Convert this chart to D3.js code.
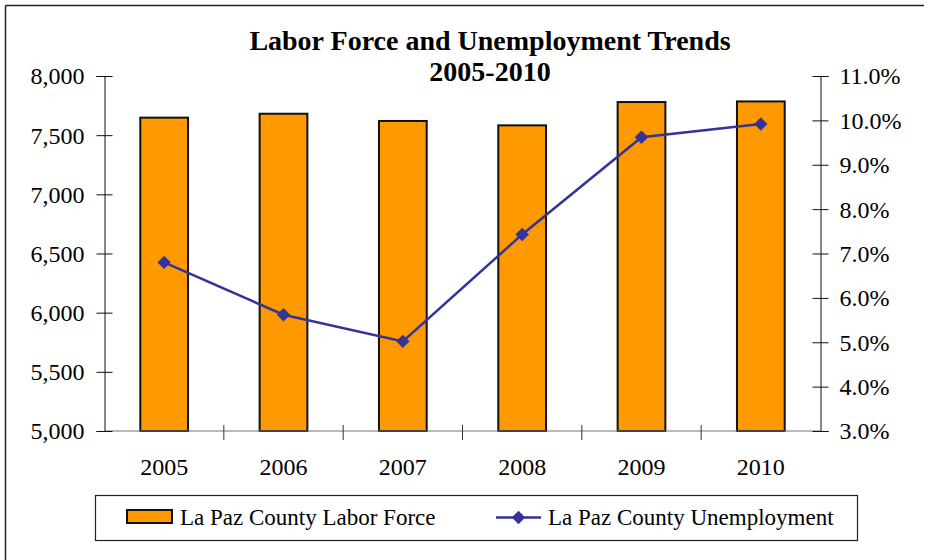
<!DOCTYPE html>
<html><head><meta charset="utf-8">
<script src="https://cdn.jsdelivr.net/npm/d3@7"></script>
<style>body{margin:0;background:#fff}svg{display:block}svg text{font-family:"Liberation Serif","Times New Roman",serif !important;fill:#000}</style>
</head><body><svg id="c" width="934" height="560"></svg>
<script>
const years = ["2005","2006","2007","2008","2009","2010"];
const laborForce = [7648, 7681, 7620, 7583, 7780, 7785];
const unemployment = [6.8, 5.62, 5.02, 7.43, 9.62, 9.92];
const leftTicks = [5000,5500,6000,6500,7000,7500,8000];
const rightTicks = [3,4,5,6,7,8,9,10,11];

const svg = d3.select("#c");
svg.append("line").attr("x1",5.5).attr("x2",924).attr("y1",5.5).attr("y2",5.5).attr("stroke","#222").attr("stroke-width",1.5);
svg.append("line").attr("x1",5.5).attr("x2",5.5).attr("y1",5.5).attr("y2",560).attr("stroke","#222").attr("stroke-width",1.5);

const L=104.5, R=820.5, T=76, B=431;
const x = d3.scaleBand().domain(years).range([L,R]).paddingInner(0.6).paddingOuter(0.3);
const xb = d3.scaleBand().domain(years).range([L,R]);
const yL = d3.scaleLinear().domain([5000,8000]).range([B,T]);
const yR = d3.scaleLinear().domain([3,11]).range([B,T]);

svg.append("text").attr("x",490).attr("y",50).attr("text-anchor","middle").attr("font-weight","bold").attr("font-size",28).text("Labor Force and Unemployment Trends");
svg.append("text").attr("x",490).attr("y",81).attr("text-anchor","middle").attr("font-weight","bold").attr("font-size",28).text("2005-2010");

svg.append("g").selectAll("rect").data(years).join("rect")
  .attr("x",d=>x(d)).attr("width",x.bandwidth())
  .attr("y",(d,i)=>yL(laborForce[i])).attr("height",(d,i)=>B-yL(laborForce[i]))
  .attr("fill","#ff9900").attr("stroke","#111").attr("stroke-width",2);

svg.append("line").attr("x1",L).attr("x2",R).attr("y1",B).attr("y2",B).attr("stroke","#777").attr("stroke-width",1.2);
const bounds = years.map(d=>xb(d)).concat([R]);
svg.append("g").selectAll("line").data(bounds.slice(1,-1)).join("line")
  .attr("x1",d=>d).attr("x2",d=>d).attr("y1",B-6).attr("y2",B+9).attr("stroke","#333").attr("stroke-width",1);
svg.append("g").selectAll("text").data(years).join("text")
  .attr("x",d=>xb(d)+xb.bandwidth()/2).attr("y",475).attr("text-anchor","middle").attr("font-size",24).text(d=>d);

const gl = svg.append("g").attr("transform",`translate(${L},0)`)
  .call(d3.axisLeft(yL).tickValues(leftTicks).tickFormat(d3.format(",")).tickSize(8));
gl.attr("font-family",null);
gl.select(".domain").attr("stroke","#111");
gl.selectAll(".tick line").attr("x2",8).attr("x1",-8).attr("stroke","#111");
gl.selectAll("text").attr("font-size",24).attr("dy","0.33em").attr("x",-20);

const gr = svg.append("g").attr("transform",`translate(${R},0)`)
  .call(d3.axisRight(yR).tickValues(rightTicks).tickFormat(d=>d3.format(".1f")(d)+"%").tickSize(8));
gr.attr("font-family",null);
gr.select(".domain").attr("stroke","#111");
gr.selectAll(".tick line").attr("x1",-8).attr("x2",8).attr("stroke","#111");
gr.selectAll("text").attr("font-size",24).attr("dy","0.33em").attr("x",19);

const line = d3.line().x((d,i)=>x(years[i])+x.bandwidth()/2).y(d=>yR(d));
svg.append("path").datum(unemployment).attr("d",line).attr("fill","none").attr("stroke","#333399").attr("stroke-width",2.5);
svg.append("g").selectAll("path").data(unemployment).join("path")
  .attr("d",d3.symbol(d3.symbolSquare,90)())
  .attr("transform",(d,i)=>`translate(${x(years[i])+x.bandwidth()/2},${yR(d)}) rotate(45)`)
  .attr("fill","#333399");

svg.append("rect").attr("x",95.5).attr("y",495.5).attr("width",762).attr("height",45).attr("fill","#fff").attr("stroke","#222").attr("stroke-width",1.2);
svg.append("rect").attr("x",127).attr("y",510).attr("width",45).attr("height",13).attr("fill","#ff9900").attr("stroke","#111").attr("stroke-width",2);
svg.append("text").attr("x",180).attr("y",525).attr("font-size",23).text("La Paz County Labor Force");
svg.append("line").attr("x1",496).attr("x2",541).attr("y1",517.5).attr("y2",517.5).attr("stroke","#333399").attr("stroke-width",2.5);
svg.append("path").attr("d",d3.symbol(d3.symbolSquare,90)()).attr("transform","translate(518.5,517.5) rotate(45)").attr("fill","#333399");
svg.append("text").attr("x",548).attr("y",525).attr("font-size",23).text("La Paz County Unemployment");
</script></body></html>
